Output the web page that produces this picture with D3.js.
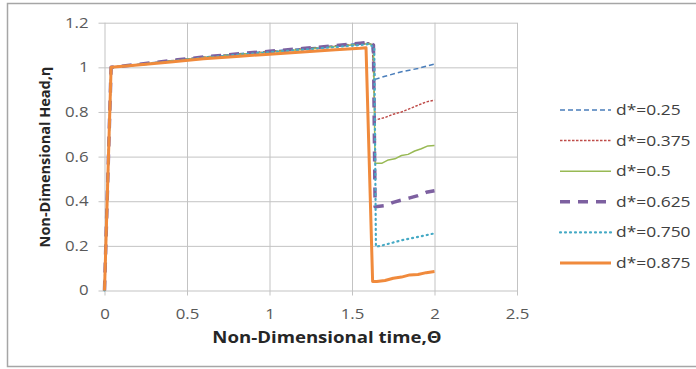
<!DOCTYPE html>
<html>
<head>
<meta charset="utf-8">
<script src="https://cdn.jsdelivr.net/npm/d3@7"></script>
<style>
  body { margin: 0; background: #fff; }
  text { font-family: "Open Sans", sans-serif; }
</style>
</head>
<body>
<div id="chart-container"></div>
<script>
/**************************************************
 * Chart Data
 **************************************************/

const xTicks = [0, 0.5, 1, 1.5, 2, 2.5];
const yTicks = [0, 0.2, 0.4, 0.6, 0.8, 1, 1.2];
const seriesNames = ["d*=0.25", "d*=0.375", "d*=0.5", "d*=0.625", "d*=0.750", "d*=0.875"];

// time values (theta) and head values (eta) for each series
const t025 = [0, 0.04, 0.2, 0.4, 0.6, 0.8, 1.0, 1.2, 1.4, 1.55, 1.6, 1.62, 1.64, 1.7, 1.8, 1.9, 2.0];
const h025 = [0, 1.0, 1.013, 1.03, 1.046, 1.06, 1.072, 1.084, 1.097, 1.107, 1.11, 1.1, 0.946, 0.96, 0.98, 0.995, 1.015];

const t0375 = [0, 0.04, 0.2, 0.4, 0.6, 0.8, 1.0, 1.2, 1.4, 1.55, 1.6, 1.625, 1.64, 1.7, 1.75, 1.8, 1.85, 1.9, 1.95, 2.0];
const h0375 = [0, 1.0, 1.012, 1.029, 1.045, 1.058, 1.07, 1.082, 1.095, 1.104, 1.108, 1.1, 0.764, 0.775, 0.79, 0.8, 0.815, 0.83, 0.845, 0.853];

const t05 = [0, 0.04, 0.2, 0.4, 0.6, 0.8, 1.0, 1.2, 1.4, 1.55, 1.6, 1.63, 1.64, 1.68, 1.72, 1.76, 1.8, 1.84, 1.88, 1.92, 1.96, 2.0];
const h05 = [0, 1.0, 1.012, 1.028, 1.044, 1.057, 1.069, 1.08, 1.093, 1.103, 1.106, 1.1, 0.57, 0.57, 0.585, 0.59, 0.605, 0.61, 0.625, 0.635, 0.648, 0.65];

const t0625 = [0, 0.04, 0.2, 0.4, 0.6, 0.8, 1.0, 1.2, 1.4, 1.55, 1.6, 1.63, 1.64, 1.7, 1.75, 1.8, 1.85, 1.9, 1.95, 2.0];
const h0625 = [0, 1.0, 1.013, 1.03, 1.046, 1.06, 1.072, 1.084, 1.097, 1.108, 1.112, 1.1, 0.375, 0.38, 0.395, 0.405, 0.415, 0.425, 0.44, 0.447];

const t075 = [0, 0.04, 0.2, 0.4, 0.6, 0.8, 1.0, 1.2, 1.4, 1.55, 1.6, 1.635, 1.645, 1.7, 1.8, 1.9, 2.0];
const h075 = [0, 1.0, 1.011, 1.027, 1.043, 1.056, 1.068, 1.079, 1.091, 1.1, 1.104, 1.09, 0.196, 0.205, 0.225, 0.24, 0.256];

const t0875 = [0, 0.04, 0.2, 0.4, 0.6, 0.8, 1.0, 1.2, 1.4, 1.55, 1.585, 1.625, 1.65, 1.7, 1.75, 1.8, 1.85, 1.9, 1.95, 2.0];
const h0875 = [0, 1.0, 1.01, 1.024, 1.038, 1.049, 1.059, 1.069, 1.079, 1.085, 1.088, 0.04, 0.04, 0.045, 0.055, 0.06, 0.07, 0.072, 0.08, 0.085];

const seriesT = [t025, t0375, t05, t0625, t075, t0875];
const seriesH = [h025, h0375, h05, h0625, h075, h0875];

/**************************************************
 * Styles
 **************************************************/

const lineColors = ["#4a7ebb", "#be4b48", "#98b954", "#7d60a0", "#46aac5", "#f08a3c"];
const lineWidths = [1.5, 1.5, 1.5, 3.5, 2.2, 3];
const lineDashes = ["5,3", "2.5,1.5", null, "10,8", "1,4", null];
const lineCaps = ["butt", "butt", "butt", "butt", "round", "butt"];

// the reference text is a bit wider than the font, stretch it sideways
const STRETCH = 1.2;

/**************************************************
 * Rendering
 **************************************************/

const W = 696, H = 369;
const margin = { left: 104.5, right: 179, top: 22.7, bottom: 78.5 };

const svg = d3.select("#chart-container")
  .append("svg")
  .attr("width", W)
  .attr("height", H);

// outer chart frame
svg.append("rect")
  .attr("x", 7.5).attr("y", 3.5)
  .attr("width", 700).attr("height", 363)
  .attr("fill", "#fff")
  .attr("stroke", "#a6a6a6")
  .attr("stroke-width", 1.5);

const x = d3.scaleLinear().domain([0, 2.5]).range([margin.left, W - margin.right]);
const y = d3.scaleLinear().domain([0, 1.2]).range([H - margin.bottom, margin.top]);

// gridlines + tick marks
const xAxis = d3.axisBottom(x).tickValues(xTicks)
  .tickSize(-(y(0) - y(1.2)) - 5).tickFormat(d3.format("")).tickPadding(14);
const yAxis = d3.axisLeft(y).tickValues(yTicks)
  .tickSize(-(x(2.5) - x(0)) - 6).tickFormat(d3.format("")).tickPadding(10);

const gx = svg.append("g")
  .attr("transform", `translate(0,${y(0) + 5})`)
  .call(xAxis);
const gy = svg.append("g")
  .attr("transform", `translate(${x(0) - 6},0)`)
  .call(yAxis);

[gx, gy].forEach(g => {
  g.select(".domain").remove();
  g.selectAll(".tick line").attr("stroke", "#c3c3c3").attr("stroke-width", 1);
  g.selectAll(".tick text")
    .attr("class", "stretch")
    .attr("fill", "#595959")
    .style("font-size", "14px")
    .style("font-family", "'Open Sans', sans-serif");
});

// series lines
const line = d3.line()
  .x(d => x(d[0]))
  .y(d => y(d[1]));

seriesNames.forEach((name, i) => {
  const pts = seriesT[i].map((t, k) => [t, seriesH[i][k]]);
  svg.append("path")
    .datum(pts)
    .attr("d", line)
    .attr("fill", "none")
    .attr("stroke", lineColors[i])
    .attr("stroke-width", lineWidths[i])
    .attr("stroke-dasharray", lineDashes[i])
    .attr("stroke-linecap", lineCaps[i])
    .attr("stroke-linejoin", "round");
});

// legend
const legend = svg.append("g").attr("transform", "translate(560,110)");
seriesNames.forEach((name, i) => {
  const g = legend.append("g").attr("transform", `translate(0, ${i * 30.6})`);
  g.append("line")
    .attr("x1", 0).attr("x2", 51)
    .attr("y1", 0).attr("y2", 0)
    .attr("stroke", lineColors[i])
    .attr("stroke-width", lineWidths[i])
    .attr("stroke-dasharray", lineDashes[i])
    .attr("stroke-linecap", lineCaps[i]);
  g.append("text")
    .attr("class", "stretch")
    .attr("x", 56)
    .attr("y", 5)
    .attr("fill", "#404040")
    .style("font-size", "14.5px")
    .text(name);
});

// axis titles
svg.append("text")
  .attr("class", "stretch")
  .attr("x", 327)
  .attr("y", 343)
  .attr("text-anchor", "middle")
  .attr("fill", "#262626")
  .style("font-size", "15.5px")
  .style("font-weight", "bold")
  .text("Non-Dimensional time,\u0398");

svg.append("text")
  .attr("transform", "translate(50,157) rotate(-90)")
  .attr("text-anchor", "middle")
  .attr("fill", "#262626")
  .style("font-size", "14.5px")
  .style("font-weight", "bold")
  .text("Non-Dimensional Head,\u03b7");

svg.selectAll("text.stretch").each(function() {
  const len = this.getComputedTextLength();
  d3.select(this)
    .attr("textLength", len * STRETCH)
    .attr("lengthAdjust", "spacingAndGlyphs");
});
</script>
</body>
</html>
